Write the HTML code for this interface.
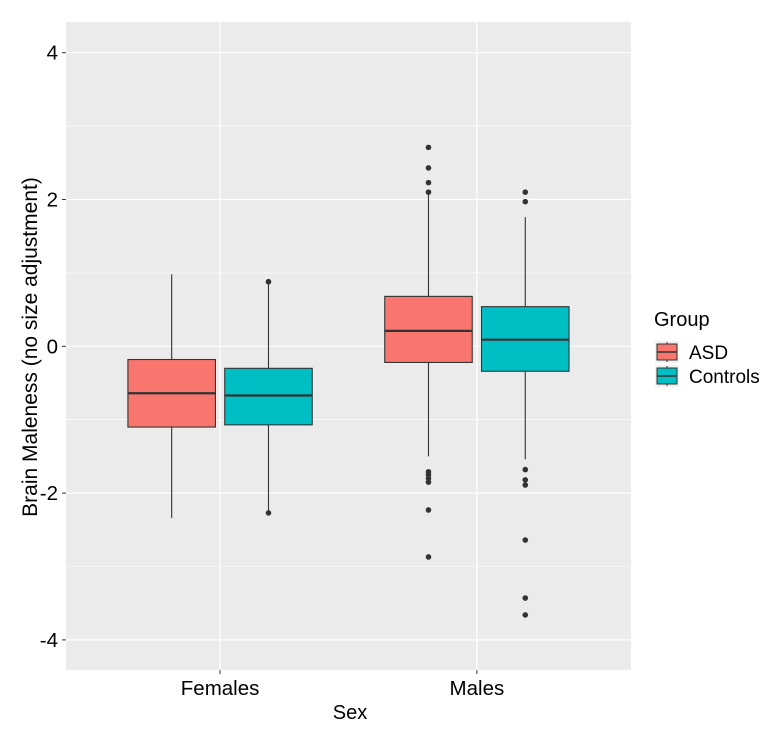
<!DOCTYPE html>
<html><head><meta charset="utf-8"><style>
body{margin:0;background:#fff;font-family:"Liberation Sans",Arial,sans-serif}
</style></head><body>
<svg id="chart" width="774" height="731" xmlns="http://www.w3.org/2000/svg">
<rect x="0" y="0" width="774" height="731" fill="#fff"/>
<rect id="panel" x="66" y="22" width="565" height="648" fill="#ebebeb"/>
<g id="grid"></g>
<g id="marks"></g>
<g id="axes"></g>
<text x="350" y="719" font-size="20" text-anchor="middle" fill="#000">Sex</text>
<text transform="translate(37,347) rotate(-90)" font-size="21" text-anchor="middle" fill="#000">Brain Maleness (no size adjustment)</text>
<g>
<text x="654" y="326" font-size="20" fill="#000">Group</text>
<g>
<rect x="655" y="341" width="24" height="22" fill="#f2f2f2"/>
<line x1="667" y1="342" x2="667" y2="362" stroke="#333" stroke-width="1"/>
<rect x="657" y="344" width="20" height="16" fill="#f8766d" stroke="#333" stroke-width="1"/>
<line x1="657" y1="352" x2="677" y2="352" stroke="#333" stroke-width="1.5"/>
<text x="689" y="359" font-size="19" fill="#000">ASD</text></g>
<g>
<rect x="655" y="365" width="24" height="22" fill="#f2f2f2"/>
<line x1="667" y1="366" x2="667" y2="386" stroke="#333" stroke-width="1"/>
<rect x="657" y="368" width="20" height="16" fill="#00bfc4" stroke="#333" stroke-width="1"/>
<line x1="657" y1="376" x2="677" y2="376" stroke="#333" stroke-width="1.5"/>
<text x="689" y="383" font-size="19" fill="#000">Controls</text></g>
</g>
</svg>
<script>
const categories = ["Females", "Males"];
const groups = ["ASD", "Controls"];
const colors = ["#f8766d", "#00bfc4"];
const yTicks = [-4, -2, 0, 2, 4];
// [category][group]
const lowerWhisker = [[-2.34, -2.27], [-1.50, -1.54]];
const q1 = [[-1.10, -1.07], [-0.22, -0.34]];
const median = [[-0.64, -0.67], [0.21, 0.09]];
const q3 = [[-0.18, -0.30], [0.68, 0.54]];
const upperWhisker = [[0.98, 0.88], [2.10, 1.76]];
const outliers = [[[], [0.88, -2.27]], [[2.71, 2.43, 2.23, 2.10, -1.71, -1.75, -1.80, -1.85, -2.23, -2.87], [2.10, 1.97, -1.68, -1.82, -1.89, -2.64, -3.43, -3.66]]];

const NS = "http://www.w3.org/2000/svg";
const y = v => 346.3 - v * 73.4;
const x = i => 66 + (i + 0.6) * 256.8;
const dodge = 48.4, bw = 87.5;
function mk(tag, attrs, parent) {
  const e = document.createElementNS(NS, tag);
  for (const k in attrs) e.setAttribute(k, attrs[k]);
  parent.appendChild(e); return e;
}
const grid = document.getElementById("grid"), marks = document.getElementById("marks"), axes = document.getElementById("axes");
for (let v = -4; v <= 4; v += 1) {
  const l = mk("line", {x1: 66, x2: 631, y1: y(v), y2: y(v), stroke: "#fff", "stroke-width": v % 2 === 0 ? 1.2 : 0.6}, grid);
  
  
}
categories.forEach((c, i) => {
  const l = mk("line", {x1: x(i), x2: x(i), y1: 22, y2: 670, stroke: "#fff", "stroke-width": 1.2}, grid);
  
  
  const t = mk("line", {x1: x(i), x2: x(i), y1: 670, y2: 674, stroke: "#333", "stroke-width": 1}, axes);
  
  
  const tx = mk("text", {x: x(i), y: 695, "font-size": 20.5, "text-anchor": "middle", fill: "#000"}, axes);
  tx.textContent = c;
  
  
});
yTicks.forEach(v => {
  const t = mk("line", {x1: 62, x2: 66, y1: y(v), y2: y(v), stroke: "#333", "stroke-width": 1}, axes);
  
  
  const tx = mk("text", {x: 58, y: y(v) + 7, "font-size": 20.5, "text-anchor": "end", fill: "#000"}, axes);
  tx.textContent = v;
  
  
});
categories.forEach((c, i) => {
  groups.forEach((g, j) => {
    const cx = x(i) + (j === 0 ? -dodge : dodge);
    const grp = mk("g", {}, marks);
    
    
    mk("line", {x1: cx, x2: cx, y1: y(upperWhisker[i][j]), y2: y(q3[i][j]), stroke: "#333", "stroke-width": 1.1}, grp);
    mk("line", {x1: cx, x2: cx, y1: y(q1[i][j]), y2: y(lowerWhisker[i][j]), stroke: "#333", "stroke-width": 1.1}, grp);
    mk("rect", {x: cx - bw / 2, y: y(q3[i][j]), width: bw, height: y(q1[i][j]) - y(q3[i][j]), fill: colors[j], stroke: "#333", "stroke-width": 1.1}, grp);
    mk("line", {x1: cx - bw / 2, x2: cx + bw / 2, y1: y(median[i][j]), y2: y(median[i][j]), stroke: "#333", "stroke-width": 2.2}, grp);
    outliers[i][j].forEach(v => {
      const p = mk("circle", {cx: cx, cy: y(v), r: 2.8, fill: "#333"}, grp);
      
      
    });
  });
});
</script>
</body></html>
